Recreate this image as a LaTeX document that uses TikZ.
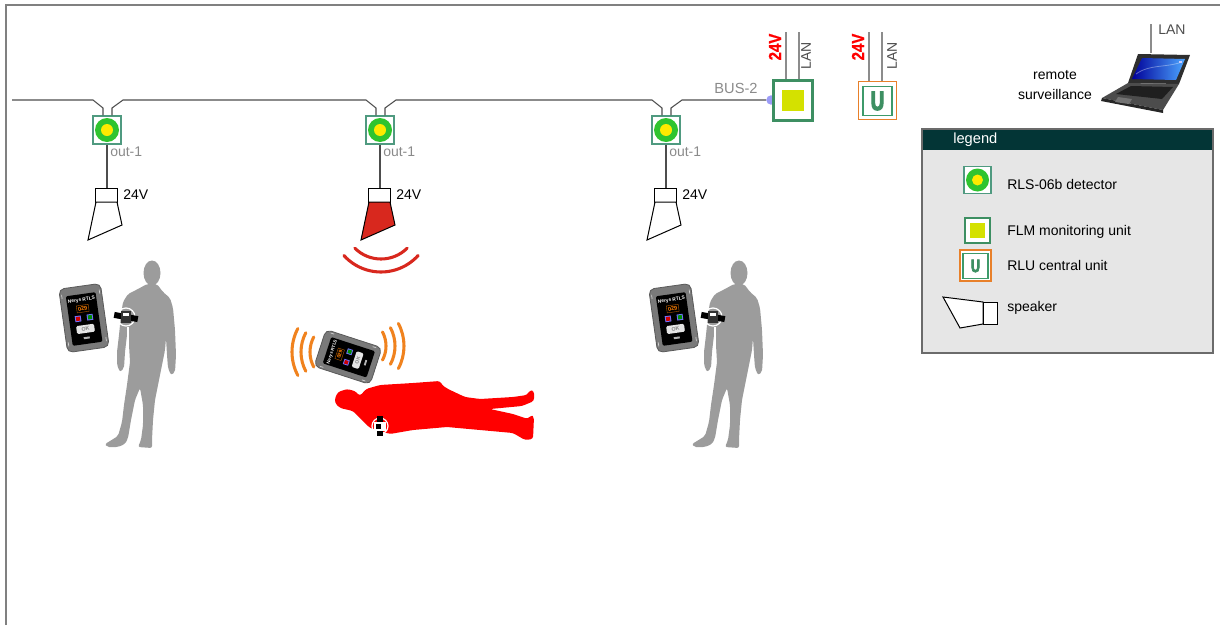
\documentclass[tikz,border=0pt]{standalone}
\usepackage{fontspec}
\setmainfont{Liberation Sans}
\newfontface\heavyU[FakeBold=4,FakeStretch=0.7]{Liberation Sans Bold}
\newfontface\condbold[FakeBold=0.8,FakeStretch=0.85]{Liberation Sans Bold}
\definecolor{busgray}{HTML}{4D4D4D}
\definecolor{detedge}{HTML}{4F9A80}
\definecolor{detgreen}{HTML}{2FC42F}
\definecolor{detyellow}{HTML}{FFEA00}
\definecolor{outgray}{HTML}{8A8A8A}
\definecolor{spkred}{HTML}{D8281E}
\definecolor{waveorange}{HTML}{F0821E}
\definecolor{persongray}{HTML}{9C9C9C}
\definecolor{personred}{HTML}{FF0000}
\definecolor{badgegray}{HTML}{7A7A7A}
\definecolor{badgeedge}{HTML}{5A5A5A}
\definecolor{flmgreen}{HTML}{3D8F62}
\definecolor{flmyellow}{HTML}{D4E100}
\definecolor{rluorange}{HTML}{E8802A}
\definecolor{rlugreen}{HTML}{3D9A6A}
\definecolor{busdot}{HTML}{9B9BF7}
\definecolor{leggray}{HTML}{6B6B6B}
\definecolor{legfill}{HTML}{E6E6E6}
\definecolor{legdark}{HTML}{033536}
\definecolor{framegray}{HTML}{808080}
\definecolor{wiregray}{HTML}{8C8C8C}
\tikzset{
  bus/.style={draw=busgray, line width=0.8pt},
  wire/.style={draw=busgray, line width=0.8pt},
  thinwire/.style={draw=wiregray, line width=0.8pt},
  detbox/.style={draw=detedge, fill=white, line width=1.1pt, minimum size=21pt, inner sep=0pt},
  lbl/.style={font=\fontsize{10.5}{12}\selectfont, inner sep=0pt},
  vlabel/.style={font=\condbold\fontsize{13.2}{13}\selectfont, text=red, inner sep=0pt, rotate=90},
  lanlabel/.style={font=\fontsize{10.5}{12}\selectfont, text=busgray, inner sep=0pt},
  spk/.style={draw=black, line width=0.75pt, line join=miter},
  wave/.style={line width=2.3pt, line cap=round},
  badge/.pic={
    \begin{scope}[every node/.style={transform shape, inner sep=0pt}]
      \draw[fill=badgegray, draw=badgeedge, line width=0.6pt, rounded corners=4pt] (-21,-32) rectangle (21,32);
      \draw[gray!35, line width=0.5pt] (-19,-26) -- (-19,-22) (19,-26) -- (19,-22)
        (-19,26) -- (-19,22) (19,26) -- (19,22);
      \fill[black, rounded corners=1pt] (-15,-24) rectangle (15,26);
      \node[text=white, font=\bfseries\fontsize{3.6}{4}\selectfont] (-brand) at (0,-18) {Nerys RTLS};
      \draw[orange!70!black, line width=0.3pt] (-6,-13) rectangle (6,-6);
      \node[text=orange, font=\bfseries\fontsize{4.2}{4}\selectfont] (-digits) at (0,-9.5) {029};
      \fill[blue!55] (-9,-3) rectangle (-3,3);
      \fill[red!80!black] (-8,-2) rectangle (-4,2);
      \fill[blue!55] (3,-3) rectangle (9,3);
      \fill[green!55!black] (4,-2) rectangle (8,2);
      \fill[gray!20, rounded corners=1pt] (-9,7) rectangle (9,15);
      \node[text=gray, font=\bfseries\fontsize{4}{4}\selectfont] (-ok) at (0,11) {OK};
      \fill[gray!60] (-3,19) rectangle (3,21);
    \end{scope}
  },
  man/.pic={
    \fill[persongray] (152,273) ellipse [x radius=8.5, y radius=12.5];
    \fill[persongray, rounded corners=1.5pt]
      (147,284) -- (138,289) -- (128,294) -- (123,302) -- (121,315) -- (119,335)
      -- (117,352) -- (117,365) -- (120,372) -- (124,368) -- (125,352) -- (127,335)
      -- (128,326) -- (129,345) -- (130,362) -- (127,385) -- (124,405) -- (122,422)
      -- (118,436) -- (110,441) -- (105,444) -- (107,447) -- (118,447) -- (125,444)
      -- (128,438) -- (131,420) -- (135,400) -- (140,388) -- (143,405) -- (143,425)
      -- (141,440) -- (138,447) -- (152,448) -- (152,440) -- (153,420) -- (155,400)
      -- (159,380) -- (162,365) -- (165,350) -- (166,338) -- (167,355) -- (168,368)
      -- (171,375) -- (175,372) -- (176,355) -- (175,330) -- (173,308) -- (170,298)
      -- (163,292) -- (157,284) -- cycle;
    \draw[white, line width=0.8pt] (128,327) -- (128,348);
    \draw[white, line width=0.9pt] (126,317) circle (9);
    \fill[black, rotate around={-10:(126,317)}] (114,314) rectangle (138,320);
    \fill[black!80] (121,311) rectangle (131,323);
    \fill[white] (123,313) rectangle (129,316);
  }
}
\begin{document}
\begin{tikzpicture}[x=0.75pt,y=-0.75pt]
\useasboundingbox (0,0) rectangle (1220,625);

% outer frame
\draw[framegray, line width=1.2pt] (6,625) -- (6,5) -- (1220,5);

% detectors with their speakers
\foreach \i/\cx/\fc in {1/107/white,2/380/spkred,3/666/white}{
  \node[detbox] (d\i) at (\cx,130) {};
  \fill[detgreen] (d\i) circle (12);
  \fill[detyellow] (d\i) circle (6);
  \node[lbl, text=outgray, anchor=west] (o\i) at (\cx+3,152) {out-1};
  \coordinate (sp\i) at (\cx,188);
  \draw[wire] (d\i.south) -- (sp\i);
  \draw[spk, fill=white] (\cx-12,188) rectangle (\cx+10,202);
  \draw[spk, fill=\fc] (\cx-11,202) -- (\cx+10,202) -- (\cx+15,225) -- (\cx-19,240) -- cycle;
  \node[lbl, anchor=west] (v\i) at (\cx+16,195) {24V};
}

% bus line
\coordinate (busW) at (12,100);
\node[circle, fill=busdot, minimum size=6.8pt, inner sep=0pt] (bd) at (771,100) {};
\draw[bus] (busW) -- (93,100) -- (103,108) -- ([xshift=-3pt]d1.north);
\draw[bus] ([xshift=3.75pt]d1.north) -- (112,108) -- (123,100) -- (366,100) -- (376,108) -- ([xshift=-3pt]d2.north);
\draw[bus] ([xshift=3.75pt]d2.north) -- (385,108) -- (396,100) -- (652,100) -- (662,108) -- ([xshift=-3pt]d3.north);
\draw[bus] ([xshift=3.75pt]d3.north) -- (671,108) -- (682,100) -- (bd.west);
\node[circle, fill=busdot, minimum size=6.8pt, inner sep=0pt] (bdtop) at (bd) {};
\node[lbl, text=outgray, font=\fontsize{11}{12}\selectfont] (bus2) at (736,88) {BUS-2};

% speaker sound
\draw[wave, spkred] (381,222) ++(42:50) arc[start angle=42, end angle=138, radius=50];
\draw[wave, spkred] (381,222) ++(45:37) arc[start angle=45, end angle=135, radius=37];

% FLM monitoring unit
\node[draw=flmgreen, line width=2.2pt, fill=white, minimum size=29.5pt, inner sep=0pt] (flm) at (793,100.5) {};
\fill[flmyellow] (782,90) rectangle (804,111);
\coordinate (fa) at (786,32);
\coordinate (fb) at (799,32);
\draw[thinwire] (fa) -- (fa |- flm.north);
\draw[thinwire] (fb) -- (fb |- flm.north);
\node[vlabel] (f24) at (775,47) {24V};
\node[lanlabel, rotate=90] (flan) at (806,56) {LAN};

% RLU central unit
\node[draw=rluorange, line width=1.1pt, fill=white, minimum size=28.2pt, inner sep=0pt] (rlu) at (877.5,100.5) {};
\node[draw=rlugreen, line width=1.1pt, minimum size=21.5pt, inner sep=0pt, text=flmgreen,
  font=\heavyU\fontsize{20}{20}\selectfont] (rluin) at (877.5,101) {U};
\coordinate (ra) at (869,32);
\coordinate (rb) at (882,32);
\draw[thinwire] (ra) -- (ra |- rlu.north);
\draw[thinwire] (rb) -- (rb |- rlu.north);
\node[vlabel] (r24) at (858,47) {24V};
\node[lanlabel, rotate=90] (rlan) at (892,56) {LAN};

% laptop for remote surveillance
\fill[black!82] (1138,54) -- (1190,55) -- (1179,84) -- (1128,83) -- cycle;
\shade[left color=blue!60!black, right color=cyan!50!blue!70] (1142,58) -- (1185,59) -- (1176,80) -- (1132,79) -- cycle;
\draw[white, opacity=0.35, line width=0.6pt] (1136,74) .. controls (1150,64) and (1165,68) .. (1182,62);
\fill[white!80!blue] (1179,61) rectangle (1182,63);
\fill[black!70] (1128,83) -- (1179,84) -- (1163,110) -- (1102,98) -- cycle;
\fill[black!85] (1102,98) -- (1163,110) -- (1163,113) -- (1101,101) -- cycle;
\fill[black!88] (1131,86) -- (1173,87) -- (1162,99) -- (1116,94) -- cycle;
\fill[black!55] (1118,97) -- (1132,99) -- (1129,104) -- (1115,102) -- cycle;
\coordinate (lapT) at (1151,24);
\coordinate (lapB) at (1151,53);
\draw[thinwire] (lapT) -- (lapB);
\node[lanlabel, anchor=west] (llan) at (1158,30) {LAN};
\node[lbl, align=center, font=\fontsize{10.5}{15}\selectfont] (remote) at (1055,85) {remote\\surveillance};

% workers
\pic (m1) at (0,0) {man};
\pic (m3) at (587,0) {man};
\pic[rotate=8] (b1) at (84,318) {badge};
\pic[rotate=8] (b3) at (674,318) {badge};

% casualty on the floor
\fill[personred, rounded corners=2pt]
  (335,398) -- (338,392) -- (347,389) -- (355,391) -- (360,396) -- (366,389) -- (380,385)
  -- (413,383) -- (440,381) -- (442,385) -- (448,389) -- (465,397) -- (480,399) -- (513,397)
  -- (527,395) -- (530,390) -- (534,391) -- (534,401) -- (522,406) -- (490,409) -- (513,414)
  -- (528,419) -- (531,415) -- (534,417) -- (533,439) -- (525,440) -- (513,433) -- (480,430)
  -- (447,427) -- (413,430) -- (390,434) -- (370,428) -- (360,418) -- (353,411) -- (340,408)
  -- (335,403) -- cycle;
\draw[white, line width=0.9pt] (380,426) circle (8);
\fill[black] (377,416) rectangle (383,436);
\fill[white] (374,422) rectangle (386,431);
\fill[black] (376,424) rectangle (381,429);

% alarm badge with signal
\pic[rotate=72, scale=0.92] (b2) at (348,357) {badge};
\foreach \r in {32,41,50}{
  \draw[wave, waveorange] (342,352) ++(152:\r) arc[start angle=152, end angle=208, radius=\r];
  \draw[wave, waveorange] (356,346) ++(-28:\r-2) arc[start angle=-28, end angle=28, radius=\r-2];
}

% legend
\draw[draw=leggray, fill=legfill, line width=1.1pt] (922,129) rectangle (1213,353);
\fill[legdark] (922.7,129.7) rectangle (1212.3,150);
\node[lbl, text=white, anchor=west, font=\fontsize{11}{12}\selectfont] (legtitle) at (953,140) {legend};

\node[detbox, minimum size=20.5pt] (ld) at (977.5,180) {};
\fill[detgreen] (ld) circle (11.5);
\fill[detyellow] (ld) circle (5.5);
\node[lbl, anchor=west] (ldt) at (1007,184) {RLS-06b detector};

\node[draw=flmgreen, line width=1.6pt, fill=white, minimum size=18.8pt, inner sep=0pt] (lf) at (977.5,230.5) {};
\fill[flmyellow] (970,223) rectangle (985,238);
\node[lbl, anchor=west] (lft) at (1007,232) {FLM monitoring unit};

\node[draw=rluorange, line width=1.1pt, fill=white, minimum size=23.5pt, inner sep=0pt] (lr) at (975.5,265.5) {};
\node[draw=rlugreen, line width=1.1pt, minimum size=18.8pt, inner sep=0pt, text=flmgreen,
  font=\heavyU\fontsize{13.5}{13}\selectfont] (lri) at (975.5,266) {U};
\node[lbl, anchor=west] (lrt) at (1007,265) {RLU central unit};

\draw[spk, fill=white] (943,297) -- (983,302) -- (983,324) -- (960,328) -- cycle;
\draw[spk, fill=white] (983,302) rectangle (997,324);
\node[lbl, anchor=west] (lst) at (1007,308) {speaker};
\end{tikzpicture}
\end{document}
